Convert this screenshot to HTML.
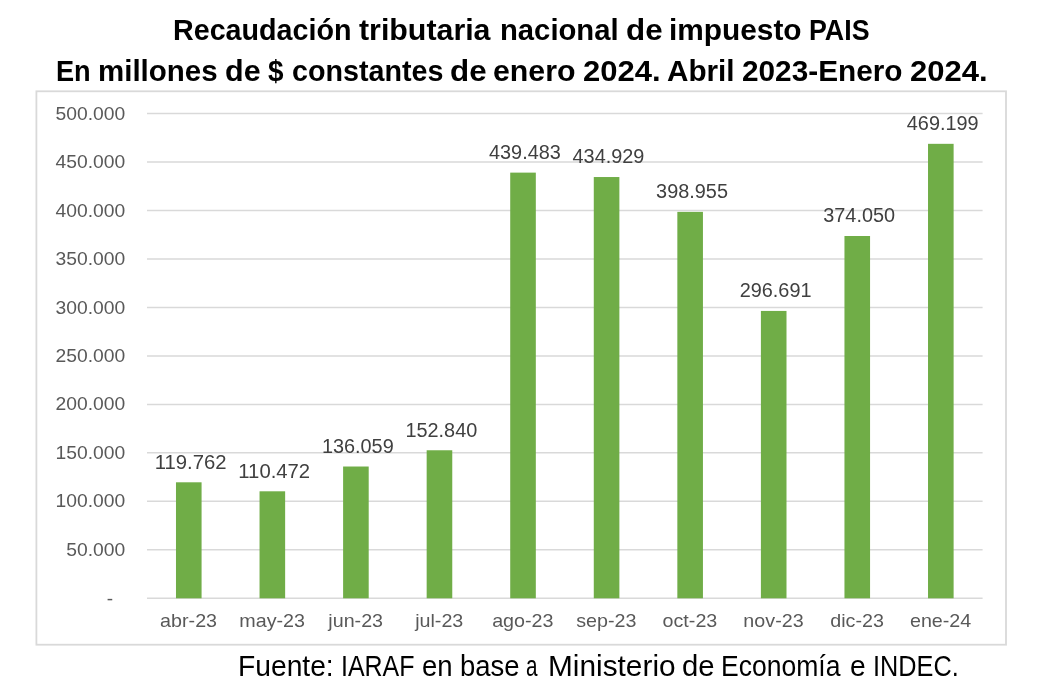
<!DOCTYPE html>
<html lang="es"><head><meta charset="utf-8"><title>Recaudación tributaria nacional de impuesto PAIS</title>
<style>html,body{margin:0;padding:0;background:#fff;}body{width:1043px;height:698px;overflow:hidden;}svg{display:block;}text{font-family:"Liberation Sans",sans-serif;}.t{font-weight:bold;font-size:30px;fill:#000;}.f{font-size:28.6px;fill:#000;}.a{font-size:19px;fill:#595959;}.d{font-size:19.4px;fill:#404040;}</style></head><body>
<svg width="1043" height="698" viewBox="0 0 1043 698">
<rect x="0" y="0" width="1043" height="698" fill="#ffffff"/>
<rect x="36.4" y="91.3" width="969.6" height="553.4" fill="#ffffff" stroke="#d9d9d9" stroke-width="1.8"/>
<line x1="147.0" x2="982.6" y1="598.30" y2="598.30" stroke="#d9d9d9" stroke-width="1.5"/>
<line x1="147.0" x2="982.6" y1="549.82" y2="549.82" stroke="#d9d9d9" stroke-width="1.5"/>
<line x1="147.0" x2="982.6" y1="501.34" y2="501.34" stroke="#d9d9d9" stroke-width="1.5"/>
<line x1="147.0" x2="982.6" y1="452.86" y2="452.86" stroke="#d9d9d9" stroke-width="1.5"/>
<line x1="147.0" x2="982.6" y1="404.38" y2="404.38" stroke="#d9d9d9" stroke-width="1.5"/>
<line x1="147.0" x2="982.6" y1="355.90" y2="355.90" stroke="#d9d9d9" stroke-width="1.5"/>
<line x1="147.0" x2="982.6" y1="307.42" y2="307.42" stroke="#d9d9d9" stroke-width="1.5"/>
<line x1="147.0" x2="982.6" y1="258.94" y2="258.94" stroke="#d9d9d9" stroke-width="1.5"/>
<line x1="147.0" x2="982.6" y1="210.46" y2="210.46" stroke="#d9d9d9" stroke-width="1.5"/>
<line x1="147.0" x2="982.6" y1="161.98" y2="161.98" stroke="#d9d9d9" stroke-width="1.5"/>
<line x1="147.0" x2="982.6" y1="113.50" y2="113.50" stroke="#d9d9d9" stroke-width="1.5"/>
<text class="a" x="110" y="605.20" text-anchor="middle">-</text>
<text class="a" x="66.33" y="555.92" textLength="58.97" lengthAdjust="spacingAndGlyphs">50.000</text>
<text class="a" x="55.60" y="507.44" textLength="69.70" lengthAdjust="spacingAndGlyphs">100.000</text>
<text class="a" x="55.60" y="458.96" textLength="69.70" lengthAdjust="spacingAndGlyphs">150.000</text>
<text class="a" x="55.60" y="410.48" textLength="69.70" lengthAdjust="spacingAndGlyphs">200.000</text>
<text class="a" x="55.60" y="362.00" textLength="69.70" lengthAdjust="spacingAndGlyphs">250.000</text>
<text class="a" x="55.60" y="313.52" textLength="69.70" lengthAdjust="spacingAndGlyphs">300.000</text>
<text class="a" x="55.60" y="265.04" textLength="69.70" lengthAdjust="spacingAndGlyphs">350.000</text>
<text class="a" x="55.60" y="216.56" textLength="69.70" lengthAdjust="spacingAndGlyphs">400.000</text>
<text class="a" x="55.60" y="168.08" textLength="69.70" lengthAdjust="spacingAndGlyphs">450.000</text>
<text class="a" x="55.60" y="119.60" textLength="69.70" lengthAdjust="spacingAndGlyphs">500.000</text>
<rect x="175.98" y="482.30" width="25.6" height="116.00" fill="#70ad47"/>
<rect x="259.54" y="491.30" width="25.6" height="107.00" fill="#70ad47"/>
<rect x="343.10" y="466.51" width="25.6" height="131.79" fill="#70ad47"/>
<rect x="426.66" y="450.26" width="25.6" height="148.04" fill="#70ad47"/>
<rect x="510.22" y="172.62" width="25.6" height="425.68" fill="#70ad47"/>
<rect x="593.78" y="177.03" width="25.6" height="421.27" fill="#70ad47"/>
<rect x="677.34" y="211.87" width="25.6" height="386.43" fill="#70ad47"/>
<rect x="760.90" y="310.93" width="25.6" height="287.37" fill="#70ad47"/>
<rect x="844.46" y="236.00" width="25.6" height="362.30" fill="#70ad47"/>
<rect x="928.02" y="143.83" width="25.6" height="454.47" fill="#70ad47"/>
<text class="d" x="154.78" y="468.68" textLength="71.8" lengthAdjust="spacingAndGlyphs">119.762</text>
<text class="d" x="238.34" y="477.69" textLength="71.8" lengthAdjust="spacingAndGlyphs">110.472</text>
<text class="d" x="321.90" y="452.88" textLength="71.8" lengthAdjust="spacingAndGlyphs">136.059</text>
<text class="d" x="405.46" y="436.61" textLength="71.8" lengthAdjust="spacingAndGlyphs">152.840</text>
<text class="d" x="489.02" y="158.68" textLength="71.8" lengthAdjust="spacingAndGlyphs">439.483</text>
<text class="d" x="572.58" y="163.09" textLength="71.8" lengthAdjust="spacingAndGlyphs">434.929</text>
<text class="d" x="656.14" y="197.97" textLength="71.8" lengthAdjust="spacingAndGlyphs">398.955</text>
<text class="d" x="739.70" y="297.13" textLength="71.8" lengthAdjust="spacingAndGlyphs">296.691</text>
<text class="d" x="823.26" y="222.12" textLength="71.8" lengthAdjust="spacingAndGlyphs">374.050</text>
<text class="d" x="906.82" y="129.86" textLength="71.8" lengthAdjust="spacingAndGlyphs">469.199</text>
<text class="a" x="160.11" y="626.6" textLength="56.94" lengthAdjust="spacingAndGlyphs">abr-23</text>
<text class="a" x="239.30" y="626.6" textLength="65.69" lengthAdjust="spacingAndGlyphs">may-23</text>
<text class="a" x="328.32" y="626.6" textLength="54.75" lengthAdjust="spacingAndGlyphs">jun-23</text>
<text class="a" x="415.17" y="626.6" textLength="48.17" lengthAdjust="spacingAndGlyphs">jul-23</text>
<text class="a" x="492.15" y="626.6" textLength="61.34" lengthAdjust="spacingAndGlyphs">ago-23</text>
<text class="a" x="576.26" y="626.6" textLength="60.23" lengthAdjust="spacingAndGlyphs">sep-23</text>
<text class="a" x="662.56" y="626.6" textLength="54.75" lengthAdjust="spacingAndGlyphs">oct-23</text>
<text class="a" x="743.38" y="626.6" textLength="60.23" lengthAdjust="spacingAndGlyphs">nov-23</text>
<text class="a" x="830.23" y="626.6" textLength="53.65" lengthAdjust="spacingAndGlyphs">dic-23</text>
<text class="a" x="909.95" y="626.6" textLength="61.34" lengthAdjust="spacingAndGlyphs">ene-24</text>
<text class="t" y="39.7"><tspan x="173.0" textLength="178.5" lengthAdjust="spacingAndGlyphs">Recaudación</tspan> <tspan x="359.0" textLength="131.5" lengthAdjust="spacingAndGlyphs">tributaria</tspan> <tspan x="500.0" textLength="118.6" lengthAdjust="spacingAndGlyphs">nacional</tspan> <tspan x="626.0" textLength="36.6" lengthAdjust="spacingAndGlyphs">de</tspan> <tspan x="669.0" textLength="132.6" lengthAdjust="spacingAndGlyphs">impuesto</tspan> <tspan x="809.0" textLength="60.5" lengthAdjust="spacingAndGlyphs">PAIS</tspan></text>
<text class="t" y="80.8"><tspan x="56.0" textLength="34.7" lengthAdjust="spacingAndGlyphs">En</tspan> <tspan x="98.0" textLength="119.6" lengthAdjust="spacingAndGlyphs">millones</tspan> <tspan x="225.0" textLength="35.6" lengthAdjust="spacingAndGlyphs">de</tspan> <tspan x="268.0" textLength="15.5" lengthAdjust="spacingAndGlyphs">$</tspan> <tspan x="292.0" textLength="151.5" lengthAdjust="spacingAndGlyphs">constantes</tspan> <tspan x="450.0" textLength="36.6" lengthAdjust="spacingAndGlyphs">de</tspan> <tspan x="493.0" textLength="82.5" lengthAdjust="spacingAndGlyphs">enero</tspan> <tspan x="583.0" textLength="77.6" lengthAdjust="spacingAndGlyphs">2024.</tspan> <tspan x="667.0" textLength="67.6" lengthAdjust="spacingAndGlyphs">Abril</tspan> <tspan x="742.0" textLength="160.5" lengthAdjust="spacingAndGlyphs">2023-Enero</tspan> <tspan x="910.0" textLength="77.6" lengthAdjust="spacingAndGlyphs">2024.</tspan></text>
<text class="f" y="676"><tspan x="238.0" textLength="95.7" lengthAdjust="spacingAndGlyphs">Fuente:</tspan> <tspan x="341.0" textLength="73.5" lengthAdjust="spacingAndGlyphs">IARAF</tspan> <tspan x="422.0" textLength="30.6" lengthAdjust="spacingAndGlyphs">en</tspan> <tspan x="460.0" textLength="59.6" lengthAdjust="spacingAndGlyphs">base</tspan> <tspan x="526.0" textLength="11.5" lengthAdjust="spacingAndGlyphs">a</tspan> <tspan x="548.0" textLength="127.6" lengthAdjust="spacingAndGlyphs">Ministerio</tspan> <tspan x="682.0" textLength="32.6" lengthAdjust="spacingAndGlyphs">de</tspan> <tspan x="721.0" textLength="119.5" lengthAdjust="spacingAndGlyphs">Economía</tspan> <tspan x="850.0" textLength="15.7" lengthAdjust="spacingAndGlyphs">e</tspan> <tspan x="873.0" textLength="85.7" lengthAdjust="spacingAndGlyphs">INDEC.</tspan></text>
</svg></body></html>
